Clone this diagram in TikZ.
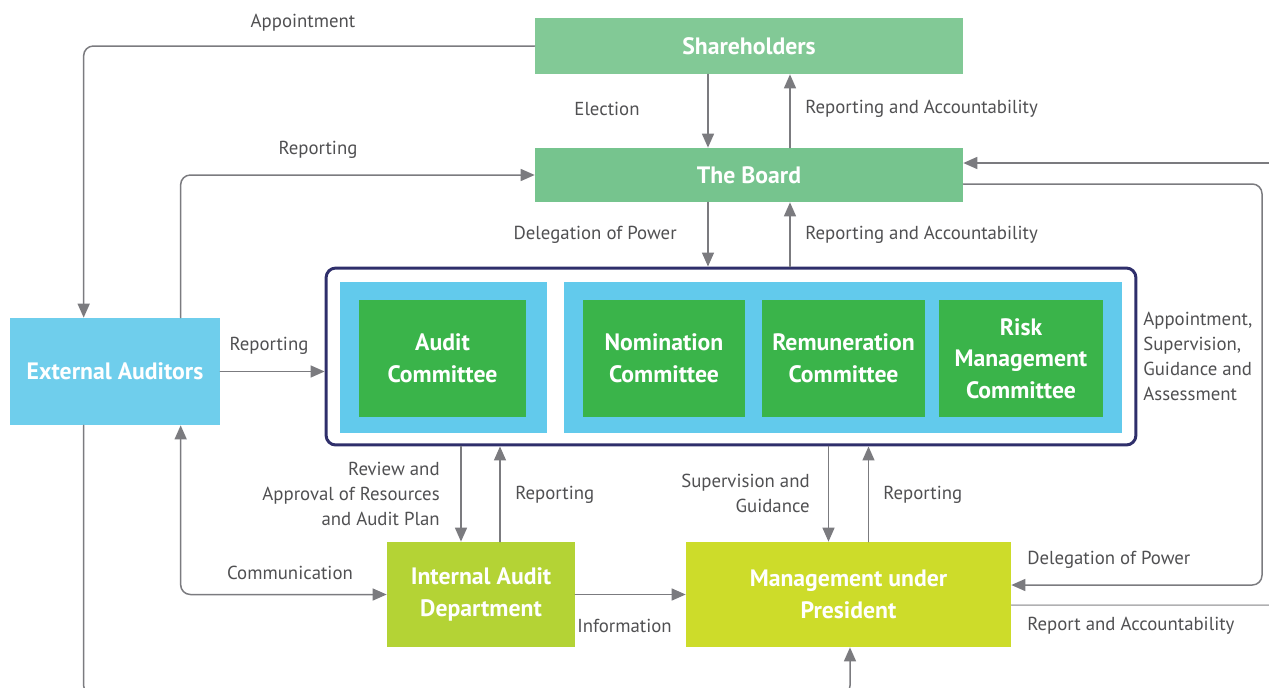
\documentclass[tikz,border=0pt]{standalone}
\usepackage{fontspec}
\setmainfont{PT Sans}
\usetikzlibrary{calc}
\usetikzlibrary{arrows.meta}
\definecolor{shgreen}{HTML}{82C996}
\definecolor{bdgreen}{HTML}{76C48E}
\definecolor{cmgreen}{HTML}{3AB44A}
\definecolor{pnblue}{HTML}{62CAEC}
\definecolor{exblue}{HTML}{6FCEEC}
\definecolor{iayell}{HTML}{B4D335}
\definecolor{mgyell}{HTML}{CDDC2A}
\definecolor{frnavy}{HTML}{2F2F6B}
\definecolor{lngray}{HTML}{7B7B7F}
\definecolor{txgray}{HTML}{505052}
\tikzset{
  box/.style={draw=none,inner sep=0pt,align=center,text=white,font=\fontsize{13.5}{18}\selectfont\bfseries},
  conn/.style={draw=lngray,line width=0.85pt,rounded corners=5.5pt},
  lbl/.style={text=txgray,inner sep=0pt,font=\fontsize{10.7}{14.2}\selectfont}
}

\begin{document}
\begin{tikzpicture}[line cap=round,line join=round,>={Triangle[length=2.8mm,width=2.4mm]},x=0.02cm,y=-0.02cm]
  \useasboundingbox (0,0) rectangle (1269,687);
  \clip (0,0) rectangle (1269,687);
  \node (sh) [box,fill=shgreen,minimum width=8.56cm,minimum height=1.12cm] at (749,46) {Shareholders};
  \node (board) [box,fill=bdgreen,minimum width=8.56cm,minimum height=1.08cm] at (749,175) {The Board};
  \node (frame) [draw=frnavy,line width=1.7pt,rounded corners=5.5pt,minimum width=16.2cm,minimum height=3.54cm] at (731,356.5) {};
  \node (lpanel) [fill=pnblue,minimum width=4.14cm,minimum height=3.02cm] at (443.5,357.5) {};
  \node (rpanel) [fill=pnblue,minimum width=11.16cm,minimum height=3.02cm] at (843,357.5) {};
  \node (audit) [box,fill=cmgreen,minimum width=3.34cm,minimum height=2.34cm] at (442.5,358.5) {Audit\\Committee};
  \node (nom) [box,fill=cmgreen,minimum width=3.24cm,minimum height=2.34cm] at (664,358.5) {Nomination\\Committee};
  \node (rem) [box,fill=cmgreen,minimum width=3.26cm,minimum height=2.34cm] at (843.5,358.5) {Remuneration\\Committee};
  \node (risk) [box,fill=cmgreen,minimum width=3.28cm,minimum height=2.34cm] at (1021,358.5) {Risk\\Management\\Committee};
  \node (ext) [box,fill=exblue,minimum width=4.2cm,minimum height=2.14cm] at (115,371.5) {External Auditors};
  \node (ia) [box,fill=iayell,minimum width=3.76cm,minimum height=2.1cm] at (481,594.5) {Internal Audit\\Department};
  \node (mgmt) [box,fill=mgyell,minimum width=6.5cm,minimum height=2.1cm] at (848.5,594.5) {Management under\\President};

  \coordinate (el) at ($(sh.south)+(-41,0)$);
  \coordinate (ra) at ($(sh.south)+(41,0)$);
  \coordinate (rv) at ($(ia.north)+(-20,0)$);
  \coordinate (rp) at ($(ia.north)+(19,0)$);
  \coordinate (sg) at ($(mgmt.north)+(-20,0)$);
  \coordinate (mr) at ($(mgmt.north)+(20,0)$);
  \coordinate (rin) at (1269,163);
  \coordinate (rdp) at (1262,184);
  \coordinate (rout) at (1269,605);

  \draw[conn,->] (sh.west) -| ($(ext.north west)+(74,0)$);
  \draw[conn,->] ($(ext.north west)+(171,0)$) |- (board.west);
  \draw[conn,->] (el) -- (el |- board.north);
  \draw[conn,->] (ra |- board.north) -- (ra);
  \draw[conn,->] (el |- board.south) -- (el |- frame.north);
  \draw[conn,->] (ra |- frame.north) -- (ra |- board.south);
  \draw[conn,->] (rin) -- (rin -| board.east);
  \draw[conn,->] (rdp -| board.east) -- (rdp) |- ($(mgmt.east)+(0,-9.5)$);
  \draw[conn,draw=lngray!60] ($(mgmt.east)+(0,10.5)$) -- (rout);
  \draw[conn,->] ($(ext.south west)+(74,0)$) -- ++(0,270) -| ($(mgmt.south)+(1.5,0)$);
  \draw[conn,->] (ext.east) -- (ext.east -| frame.west);
  \draw[conn,<->] ($(ext.south west)+(171,0)$) |- (ia.west);
  \draw[conn,->] (rv |- frame.south) -- (rv);
  \draw[conn,->] (rp) -- (rp |- frame.south);
  \draw[conn,->] (ia.east) -- (mgmt.west);
  \draw[conn,->] (sg |- frame.south) -- (sg);
  \draw[conn,->] (mr) -- (mr |- frame.south);

  \node (lbApp) [lbl] at (303,23) {Appointment};
  \node (lbRepB) [lbl] at (318,150) {Reporting};
  \node (lbElec) [lbl] at (607,109) {Election};
  \node (lbRaS) [lbl,anchor=west] at (805,109) {Reporting and Accountability};
  \node (lbDel) [lbl,anchor=east] at (677,235) {Delegation of Power};
  \node (lbRaB) [lbl,anchor=west] at (805,235) {Reporting and Accountability};
  \node (lbRepF) [lbl] at (269,346) {Reporting};
  \node (lbAsg) [lbl,anchor=west,align=left] at (1143,356.5) {Appointment,\\Supervision,\\Guidance and\\Assessment};
  \node (lbRev) [lbl,anchor=east,align=right] at (440,494) {Review and\\Approval of Resources\\and Audit Plan};
  \node (lbRepI) [lbl,anchor=west] at (515,495) {Reporting};
  \node (lbSup) [lbl,anchor=east,align=right] at (810,493.5) {Supervision and\\Guidance};
  \node (lbRepM) [lbl,anchor=west] at (883,495) {Reporting};
  \node (lbCom) [lbl] at (290,573) {Communication};
  \node (lbInf) [lbl,anchor=west] at (577,626) {Information};
  \node (lbDelM) [lbl,anchor=west] at (1027,560) {Delegation of Power};
  \node (lbRaM) [lbl,anchor=west] at (1027,626) {Report and Accountability};
\end{tikzpicture}
\end{document}
